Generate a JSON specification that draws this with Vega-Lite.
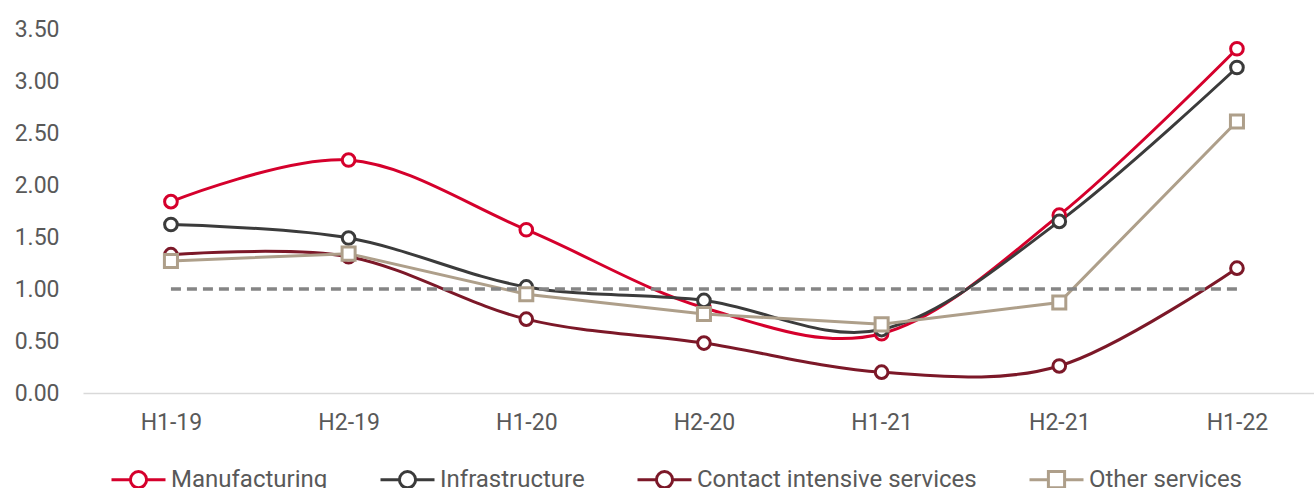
{
  "$schema": "https://vega.github.io/schema/vega-lite/v6.json",
  "width": 1231,
  "height": 364,
  "autosize": {"type": "none"},
  "padding": {"left": 83, "top": 29, "right": 0, "bottom": 95},
  "background": "white",
  "datasets": {
    "series": [
      {"period": "H1-19", "series": "Manufacturing", "value": 1.84},
      {"period": "H2-19", "series": "Manufacturing", "value": 2.24},
      {"period": "H1-20", "series": "Manufacturing", "value": 1.57},
      {"period": "H2-20", "series": "Manufacturing", "value": 0.82},
      {"period": "H1-21", "series": "Manufacturing", "value": 0.57},
      {"period": "H2-21", "series": "Manufacturing", "value": 1.71},
      {"period": "H1-22", "series": "Manufacturing", "value": 3.31},
      {"period": "H1-19", "series": "Infrastructure", "value": 1.62},
      {"period": "H2-19", "series": "Infrastructure", "value": 1.49},
      {"period": "H1-20", "series": "Infrastructure", "value": 1.02},
      {"period": "H2-20", "series": "Infrastructure", "value": 0.89},
      {"period": "H1-21", "series": "Infrastructure", "value": 0.61},
      {"period": "H2-21", "series": "Infrastructure", "value": 1.65},
      {"period": "H1-22", "series": "Infrastructure", "value": 3.13},
      {"period": "H1-19", "series": "Contact intensive services", "value": 1.33},
      {"period": "H2-19", "series": "Contact intensive services", "value": 1.31},
      {"period": "H1-20", "series": "Contact intensive services", "value": 0.71},
      {"period": "H2-20", "series": "Contact intensive services", "value": 0.48},
      {"period": "H1-21", "series": "Contact intensive services", "value": 0.2},
      {"period": "H2-21", "series": "Contact intensive services", "value": 0.26},
      {"period": "H1-22", "series": "Contact intensive services", "value": 1.2},
      {"period": "H1-19", "series": "Other services", "value": 1.27},
      {"period": "H2-19", "series": "Other services", "value": 1.34},
      {"period": "H1-20", "series": "Other services", "value": 0.95},
      {"period": "H2-20", "series": "Other services", "value": 0.76},
      {"period": "H1-21", "series": "Other services", "value": 0.66},
      {"period": "H2-21", "series": "Other services", "value": 0.87},
      {"period": "H1-22", "series": "Other services", "value": 2.61}
    ],
    "ref": [{"from": "H1-19", "to": "H1-22", "level": 1}]
  },
  "config": {
    "view": {"stroke": null},
    "font": "Roboto",
    "axis": {
      "labelColor": "#595959",
      "labelFontSize": 23,
      "labelFont": "Roboto",
      "ticks": false,
      "tickSize": 0,
      "grid": false,
      "title": null
    },
    "legend": {
      "orient": "none",
      "legendX": 27,
      "legendY": 422,
      "direction": "horizontal",
      "title": null,
      "labelFontSize": 24,
      "labelFont": "Roboto",
      "labelColor": "#595959",
      "labelLimit": 500,
      "symbolSize": 2916,
      "symbolStrokeWidth": 3,
      "labelOffset": 4,
      "columnPadding": 46
    }
  },
  "layer": [
    {
      "data": {"name": "series"},
      "transform": [{"filter": "datum.series !== 'Other services'"}],
      "mark": {"type": "line", "interpolate": "cardinal", "strokeWidth": 3},
      "encoding": {
        "x": {
          "field": "period", "type": "ordinal",
          "scale": {"type": "point", "padding": 0.4643, "align": 0.533, "domain": ["H1-19", "H2-19", "H1-20", "H2-20", "H1-21", "H2-21", "H1-22"]},
          "axis": {"labelAngle": 0, "domainColor": "#d9d9d9", "domainWidth": 1.5, "labelPadding": 18}
        },
        "y": {
          "field": "value", "type": "quantitative",
          "scale": {"domain": [0, 3.5], "nice": false},
          "axis": {"values": [0, 0.5, 1, 1.5, 2, 2.5, 3, 3.5], "format": ".2f", "domain": false, "labelPadding": 24}
        },
        "color": {
          "field": "series", "type": "nominal",
          "scale": {
            "domain": ["Manufacturing", "Infrastructure", "Contact intensive services", "Other services"],
            "range": ["#d5002c", "#3b3b3b", "#7c1828", "#ae9f8a"]
          },
          "legend": {
            "symbolType": "M-1,0H-0.3M0.3,0H1M0.3,0A0.3,0.3,0,1,1,-0.3,0A0.3,0.3,0,1,1,0.3,0Z",
            "encode": {
              "symbols": {
                "update": {
                  "shape": {"signal": "datum.value === 'Other services' ? 'M-1,0H-0.3M0.3,0H1M-0.3,-0.3H0.3V0.3H-0.3Z' : 'M-1,0H-0.3M0.3,0H1M0.3,0A0.3,0.3,0,1,1,-0.3,0A0.3,0.3,0,1,1,0.3,0Z'"},
                  "fill": {"value": "white"},
                  "strokeWidth": {"value": 3},
                  "opacity": {"value": 1}
                }
              }
            }
          }
        }
      }
    },
    {
      "data": {"name": "series"},
      "transform": [{"filter": "datum.series === 'Other services'"}],
      "mark": {"type": "line", "interpolate": "linear", "strokeWidth": 3},
      "encoding": {
        "x": {"field": "period", "type": "ordinal"},
        "y": {"field": "value", "type": "quantitative"},
        "color": {"field": "series", "type": "nominal"}
      }
    },
    {
      "data": {"name": "ref"},
      "mark": {"type": "rule", "strokeDash": [10, 6], "strokeWidth": 3.5, "color": "#858585"},
      "encoding": {
        "x": {"field": "from", "type": "ordinal"},
        "x2": {"field": "to"},
        "y": {"field": "level", "type": "quantitative"}
      }
    },
    {
      "data": {"name": "series"},
      "transform": [{"filter": "datum.series !== 'Other services'"}],
      "mark": {"type": "point", "shape": "circle", "filled": false, "fill": "white", "strokeWidth": 3, "size": 160, "opacity": 1},
      "encoding": {
        "x": {"field": "period", "type": "ordinal"},
        "y": {"field": "value", "type": "quantitative"},
        "color": {"field": "series", "type": "nominal"}
      }
    },
    {
      "data": {"name": "series"},
      "transform": [{"filter": "datum.series === 'Other services'"}],
      "mark": {"type": "point", "shape": "square", "filled": false, "fill": "white", "strokeWidth": 3, "size": 170, "opacity": 1},
      "encoding": {
        "x": {"field": "period", "type": "ordinal"},
        "y": {"field": "value", "type": "quantitative"},
        "color": {"field": "series", "type": "nominal"}
      }
    }
  ]
}
